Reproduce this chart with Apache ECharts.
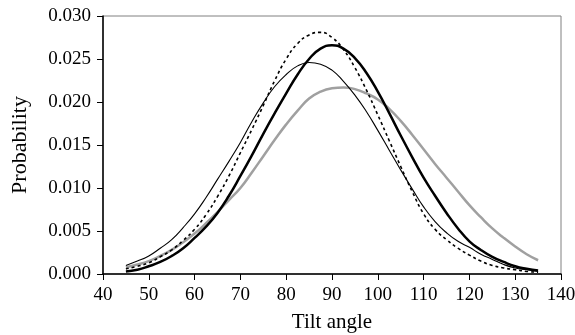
<!DOCTYPE html>
<html><head><meta charset="utf-8">
<script src="https://cdn.jsdelivr.net/npm/echarts@6/dist/echarts.min.js"></script>
<style>html,body{margin:0;padding:0;background:#fff}#c{width:575px;height:335px}</style>
</head><body><div id="c"></div>
<script>
var angles = [45,47.5,50,52.5,55,57.5,60,62.5,65,67.5,70,72.5,75,77.5,80,82.5,85,87.5,90,92.5,95,97.5,100,102.5,105,107.5,110,112.5,115,117.5,120,122.5,125,127.5,130,132.5,135];
var thinBlack = [0.0010,0.0015,0.0021,0.0030,0.0040,0.0054,0.0070,0.0089,0.0110,0.0131,0.0153,0.0177,0.0199,0.0218,0.0232,0.0242,0.0246,0.0244,0.0237,0.0224,0.0208,0.0189,0.0167,0.0144,0.0121,0.0099,0.0078,0.0061,0.0048,0.0038,0.0031,0.0023,0.0017,0.0011,0.0007,0.0005,0.0003];
var dashedBlack = [0.0006,0.0009,0.0013,0.0020,0.0028,0.0039,0.0052,0.0069,0.0090,0.0114,0.0141,0.0168,0.0196,0.0225,0.0250,0.0268,0.0278,0.0281,0.0275,0.0261,0.0240,0.0214,0.0185,0.0155,0.0125,0.0096,0.0070,0.0052,0.0040,0.0030,0.0022,0.0015,0.0010,0.0007,0.0005,0.0003,0.0002];
var thickBlack = [0.0003,0.0005,0.0009,0.0014,0.0021,0.0030,0.0042,0.0055,0.0071,0.0091,0.0114,0.0138,0.0163,0.0187,0.0210,0.0232,0.0250,0.0262,0.0266,0.0262,0.0251,0.0234,0.0212,0.0187,0.0161,0.0136,0.0112,0.0091,0.0071,0.0053,0.0038,0.0028,0.0020,0.0014,0.0009,0.0006,0.0004];
var grayLine = [0.0008,0.0011,0.0015,0.0021,0.0028,0.0037,0.0047,0.0059,0.0072,0.0086,0.0100,0.0118,0.0137,0.0156,0.0174,0.0190,0.0204,0.0212,0.0216,0.0217,0.0215,0.0210,0.0203,0.0192,0.0178,0.0162,0.0145,0.0128,0.0112,0.0096,0.0080,0.0066,0.0053,0.0042,0.0032,0.0023,0.0016];
var xTicks = {min:40,max:140,interval:10};
var yTicks = {min:0,max:0.03,interval:0.005};

function pairs(v){ return angles.map(function(a,i){return [a,v[i]];}); }
var font = '"Liberation Serif","DejaVu Serif",serif';
var chart = echarts.init(document.getElementById('c'), null, {renderer:'canvas'});
chart.setOption({
  animation:false,
  backgroundColor:'#fff',
  grid:{left:103,right:14,top:16,bottom:61,containLabel:false,outerBoundsMode:'none',show:true,borderColor:'#808080',borderWidth:1,backgroundColor:'transparent'},
  xAxis:{type:'value',min:xTicks.min,max:xTicks.max,interval:xTicks.interval,
    name:'Tilt angle',nameLocation:'middle',nameGap:38,
    nameTextStyle:{fontFamily:font,fontSize:21,color:'#000'},
    axisLine:{show:true,lineStyle:{color:'#000',width:1.5}},
    axisTick:{show:true,inside:false,length:6,lineStyle:{color:'#000'}},
    axisLabel:{fontFamily:font,fontSize:19,color:'#000',margin:12},
    splitLine:{show:false}},
  yAxis:{type:'value',min:yTicks.min,max:yTicks.max,interval:yTicks.interval,
    name:'Probability',nameLocation:'middle',nameGap:72,
    nameTextStyle:{fontFamily:font,fontSize:22,color:'#000'},
    axisLine:{show:true,lineStyle:{color:'#000',width:1.5}},
    axisTick:{show:true,inside:false,length:6,lineStyle:{color:'#000'}},
    axisLabel:{fontFamily:font,fontSize:19,color:'#000',margin:12,formatter:function(v){return v.toFixed(3);}},
    splitLine:{show:false}},
  series:[
    {type:'line',data:pairs(grayLine),smooth:0.5,symbol:'none',lineStyle:{color:'#a0a0a0',width:2.5}},
    {type:'line',data:pairs(thickBlack),smooth:0.5,symbol:'none',lineStyle:{color:'#000',width:2.5}},
    {type:'line',data:pairs(thinBlack),smooth:0.5,symbol:'none',lineStyle:{color:'#000',width:1.1}},
    {type:'line',data:pairs(dashedBlack),smooth:0.5,symbol:'none',lineStyle:{color:'#000',width:1.6,type:[3,3]}}
  ]
});
</script></body></html>
